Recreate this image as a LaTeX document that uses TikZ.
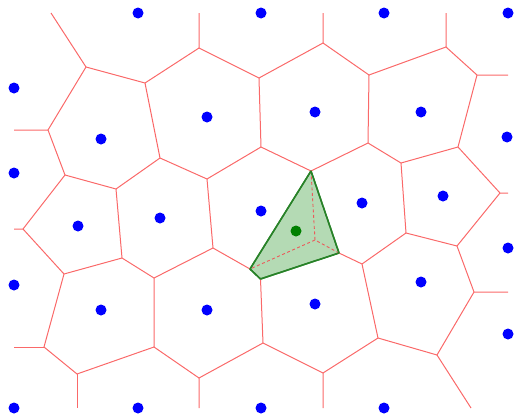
\documentclass[tikz,border=0pt]{standalone}
\begin{document}
\begin{tikzpicture}[x=1pt,y=-1pt,
  vedge/.style={draw={rgb,255:red,250;green,105;blue,105},line width=1pt},
  site/.style={circle,fill=blue,inner sep=0pt,minimum size=11pt},
  newsite/.style={circle,fill={rgb,255:red,0;green,128;blue,0},inner sep=0pt,minimum size=11pt},
  cellfill/.style={fill={rgb,255:red,180;green,218;blue,180},draw={rgb,255:red,40;green,130;blue,40},line width=1.5pt,line join=round},
  oldedge/.style={draw={rgb,255:red,235;green,90;blue,90},line width=0.9pt,dashed,dash pattern=on 3pt off 2.5pt}]
\useasboundingbox (0,0) rectangle (514,415);
% vertices
\coordinate (A) at (86,67);
\coordinate (B) at (145,83);
\coordinate (C) at (199,48);
\coordinate (D) at (48,130);
\coordinate (E) at (65,175);
\coordinate (F) at (116,189);
\coordinate (G) at (160,158);
\coordinate (H) at (207,179);
\coordinate (I) at (323,43);
\coordinate (J) at (259,78);
\coordinate (K) at (369,75);
\coordinate (L) at (446,47);
\coordinate (M) at (477,75);
\coordinate (N) at (458,147);
\coordinate (O) at (500,193);
\coordinate (P) at (401,163);
\coordinate (Q) at (368,143);
\coordinate (R) at (311,171);
\coordinate (S) at (261,147);
\coordinate (T) at (23,229);
\coordinate (U) at (64,274);
\coordinate (V) at (122,258);
\coordinate (W) at (154,278);
\coordinate (X) at (213,248);
\coordinate (Y) at (250,269);
\coordinate (Bt) at (260.5,279);
\coordinate (Rt) at (339,253);
\coordinate (Cz) at (315,240);
\coordinate (Z) at (154,347);
\coordinate (AA) at (44,347);
\coordinate (AB) at (77,374);
\coordinate (AC) at (199,378);
\coordinate (AD) at (362,264);
\coordinate (AE) at (406,233);
\coordinate (AF) at (457,246);
\coordinate (AG) at (474,292);
\coordinate (AH) at (437,355);
\coordinate (AI) at (378,338);
\coordinate (AJ) at (323,373);
\coordinate (AK) at (263,343);
% free ends
\coordinate (eA) at (51,13);
\coordinate (eC) at (199,13);
\coordinate (eI) at (323,13);
\coordinate (eL) at (446,13);
\coordinate (eM) at (508,75);
\coordinate (eO) at (508,193);
\coordinate (eD) at (14,130);
\coordinate (eT) at (14,229);
\coordinate (eAA) at (14,347);
\coordinate (eAB) at (77,408);
\coordinate (eAC) at (199,408);
\coordinate (eAJ) at (323,408);
\coordinate (eAH) at (471,408);
\coordinate (eAG) at (508,292);
% new cell
\path[cellfill] (R) -- (Rt) -- (Bt) -- (Y) -- cycle;
\draw[oldedge] (R) -- (Cz) -- (Rt);
\draw[oldedge] (Cz) -- (Y);
% voronoi edges
\draw[vedge] (eA) -- (A) -- (B) -- (C) -- (eC);
\draw[vedge] (C) -- (J) -- (I) -- (eI);
\draw[vedge] (I) -- (K) -- (L) -- (eL);
\draw[vedge] (L) -- (M) -- (eM);
\draw[vedge] (M) -- (N) -- (O) -- (eO);
\draw[vedge] (N) -- (P) -- (Q) -- (K);
\draw[vedge] (Q) -- (R) -- (S) -- (J);
\draw[vedge] (S) -- (H) -- (G) -- (B);
\draw[vedge] (A) -- (D) -- (eD);
\draw[vedge] (D) -- (E) -- (F) -- (G);
\draw[vedge] (E) -- (T) -- (eT);
\draw[vedge] (H) -- (X) -- (W) -- (V) -- (F);
\draw[vedge] (X) -- (Y);
\draw[vedge] (T) -- (U) -- (V);
\draw[vedge] (W) -- (Z) -- (AB) -- (AA) -- (U);
\draw[vedge] (AA) -- (eAA);
\draw[vedge] (AB) -- (eAB);
\draw[vedge] (Z) -- (AC) -- (eAC);
\draw[vedge] (AC) -- (AK) -- (Bt);
\draw[vedge] (AK) -- (AJ) -- (eAJ);
\draw[vedge] (AJ) -- (AI) -- (AD) -- (Rt);
\draw[vedge] (AI) -- (AH) -- (eAH);
\draw[vedge] (AH) -- (AG) -- (eAG);
\draw[vedge] (AG) -- (AF) -- (O);
\draw[vedge] (AF) -- (AE) -- (P);
\draw[vedge] (AE) -- (AD);
% redraw green boundary on top
\draw[cellfill,fill=none] (R) -- (Rt) -- (Bt) -- (Y) -- cycle;
% sites
\foreach \n/\x/\y in {s1/138/13,s2/261/13,s3/384/13,s4/508/13,
  s5/14/88,s6/207/117,s7/101/139,s8/315/112,s9/421/112,s10/507/137,
  s11/14/173,s12/160/218,s13/78/226,s14/261/211,s15/362/203,s16/443/196,
  s17/508/248,s18/421/282,s19/14/285,s20/101/310,s21/207/310,s22/315/304,
  s23/508/334,s24/14/408,s25/138/408,s26/261/408,s27/384/408}
  \node[site] (\n) at (\x,\y) {};
\node[newsite] (g) at (296,231) {};
\end{tikzpicture}
\end{document}
